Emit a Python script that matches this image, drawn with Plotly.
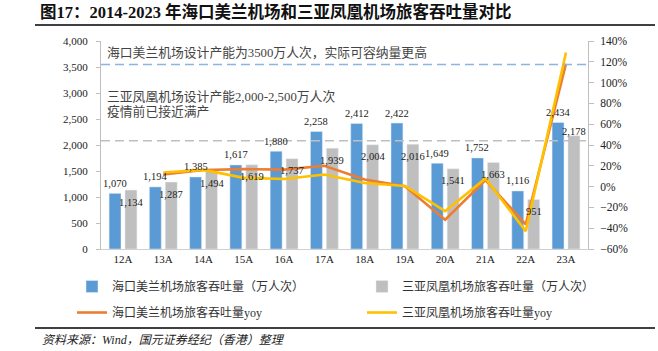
import plotly.graph_objects as go

categories = ["12A", "13A", "14A", "15A", "16A", "17A", "18A", "19A", "20A", "21A", "22A", "23A"]
haikou = [1070, 1194, 1385, 1617, 1880, 2258, 2412, 2422, 1649, 1752, 1116, 2434]
sanya = [1134, 1287, 1494, 1619, 1737, 1939, 2004, 2016, 1541, 1663, 951, 2178]
haikou_yoy = [None, 0.116, 0.160, 0.168, 0.163, 0.201, 0.068, 0.004, -0.319, 0.062, -0.363, 1.181]
sanya_yoy = [None, 0.135, 0.161, 0.084, 0.073, 0.116, 0.034, 0.006, -0.236, 0.079, -0.428, 1.290]
haikou_cap = 3550
sanya_cap = 2080

W, H = 658, 351
L, R, T, B = 101, 588, 41, 249
PW, PH = R - L, B - T


def px(x):
    return (x - L) / PW


def py(y):
    return (B - y) / PH


SERIF = "Liberation Serif, Noto Sans CJK SC"
BLUE, GRAY, ORANGE, YELLOW = "#5B9BD5", "#BFBFBF", "#ED7D31", "#FFC000"

fig = go.Figure()
fig.add_trace(go.Bar(x=categories, y=haikou, name="海口美兰机场旅客吞吐量（万人次）",
                     marker_color=BLUE, legend="legend", legendgroup="a"))
fig.add_trace(go.Bar(x=categories, y=sanya, name="三亚凤凰机场旅客吞吐量（万人次）",
                     marker_color=GRAY, legend="legend2", legendgroup="b"))
fig.add_trace(go.Scatter(x=categories, y=haikou_yoy, name="海口美兰机场旅客吞吐量yoy",
                         mode="lines", line=dict(color=ORANGE, width=2.6), yaxis="y2",
                         legend="legend", legendgroup="c"))
fig.add_trace(go.Scatter(x=categories, y=sanya_yoy, name="三亚凤凰机场旅客吞吐量yoy",
                         mode="lines", line=dict(color=YELLOW, width=2.6), yaxis="y2",
                         legend="legend2", legendgroup="d"))

annotations = []
for c, v in zip(categories, haikou):
    annotations.append(dict(x=c, y=v, xref="x", yref="y", text=f"{v:,}", showarrow=False,
                            xshift=-8, yshift=10, font=dict(family=SERIF, size=10.5, color="#222")))
for i, (c, v) in enumerate(zip(categories, sanya)):
    ys = 4 if i == len(categories) - 1 else -12
    annotations.append(dict(x=c, y=v, xref="x", yref="y", text=f"{v:,}", showarrow=False,
                            xshift=8, yshift=ys, font=dict(family=SERIF, size=10.5, color="#222")))

annotations += [
    dict(x=px(105), y=3770, xref="paper", yref="y", xanchor="left", yanchor="middle",
         text="海口美兰机场设计产能为3500万人次，实际可容纳量更高", showarrow=False,
         font=dict(family=SERIF, size=12.8, color="#444")),
    dict(x=px(105), y=2923, xref="paper", yref="y", xanchor="left", yanchor="middle",
         text="三亚凤凰机场设计产能2,000-2,500万人次", showarrow=False,
         font=dict(family=SERIF, size=12.8, color="#444")),
    dict(x=px(105), y=2635, xref="paper", yref="y", xanchor="left", yanchor="middle",
         text="疫情前已接近满产", showarrow=False,
         font=dict(family=SERIF, size=12.8, color="#444")),
    dict(x=px(38), y=py(12), xref="paper", yref="paper", xanchor="left", yanchor="middle",
         text="<b>图17：2014-2023 年海口美兰机场和三亚凤凰机场旅客吞吐量对比</b>", showarrow=False,
         font=dict(family=SERIF, size=16.5, color="#111")),
    dict(x=px(40), y=py(340), xref="paper", yref="paper", xanchor="left", yanchor="middle",
         text="资料来源：Wind，国元证券经纪（香港）整理", showarrow=False,
         font=dict(family=SERIF, size=12, color="#222", style="italic")),
]

shapes = [
    dict(type="line", xref="paper", yref="y", x0=0, x1=1, y0=haikou_cap, y1=haikou_cap,
         line=dict(color="#8DB4E2", width=1.5, dash="9px,5px")),
    dict(type="line", xref="paper", yref="y", x0=0, x1=1, y0=sanya_cap, y1=sanya_cap,
         line=dict(color="#BFBFBF", width=1.5, dash="9px,5px")),
    dict(type="line", xref="paper", yref="paper", x0=px(35), x1=px(655), y0=py(25), y1=py(25),
         line=dict(color="#404040", width=2)),
    dict(type="line", xref="paper", yref="paper", x0=px(35), x1=px(655), y0=py(328), y1=py(328),
         line=dict(color="#404040", width=2)),
]

legend_common = dict(orientation="v", yanchor="top", y=py(272), xanchor="left",
                     traceorder="grouped", tracegroupgap=7, bgcolor="rgba(0,0,0,0)",
                     font=dict(family=SERIF, size=12, color="#333"))

fig.update_layout(
    width=W, height=H,
    margin=dict(l=L, r=W - R, t=T, b=H - B, pad=0),
    paper_bgcolor="white", plot_bgcolor="white",
    barmode="group", bargap=0.21, bargroupgap=0.25,
    showlegend=True,
    legend=dict(x=px(72), **legend_common),
    legend2=dict(x=px(362), **legend_common),
    xaxis=dict(showline=True, linecolor="#D0D0D0", linewidth=1, ticks="",
               tickfont=dict(family=SERIF, size=11, color="#222"), showgrid=False),
    yaxis=dict(range=[0, 4000], dtick=500, tickformat=",d", showgrid=False,
               showline=True, linecolor="#BFBFBF", ticks="outside", ticklen=4,
               tickcolor="#BFBFBF", ticklabelstandoff=6,
               tickfont=dict(family=SERIF, size=11, color="#222"), zeroline=False),
    yaxis2=dict(range=[-0.6, 1.4], dtick=0.2, tickformat=".0%", overlaying="y", side="right",
                showgrid=False, showline=True, linecolor="#BFBFBF", ticks="outside",
                ticklen=5, tickcolor="#BFBFBF", ticklabelstandoff=4,
                tickfont=dict(family=SERIF, size=11.5, color="#222"), zeroline=False),
    annotations=annotations,
    shapes=shapes,
)

fig.write_html("out.html")
